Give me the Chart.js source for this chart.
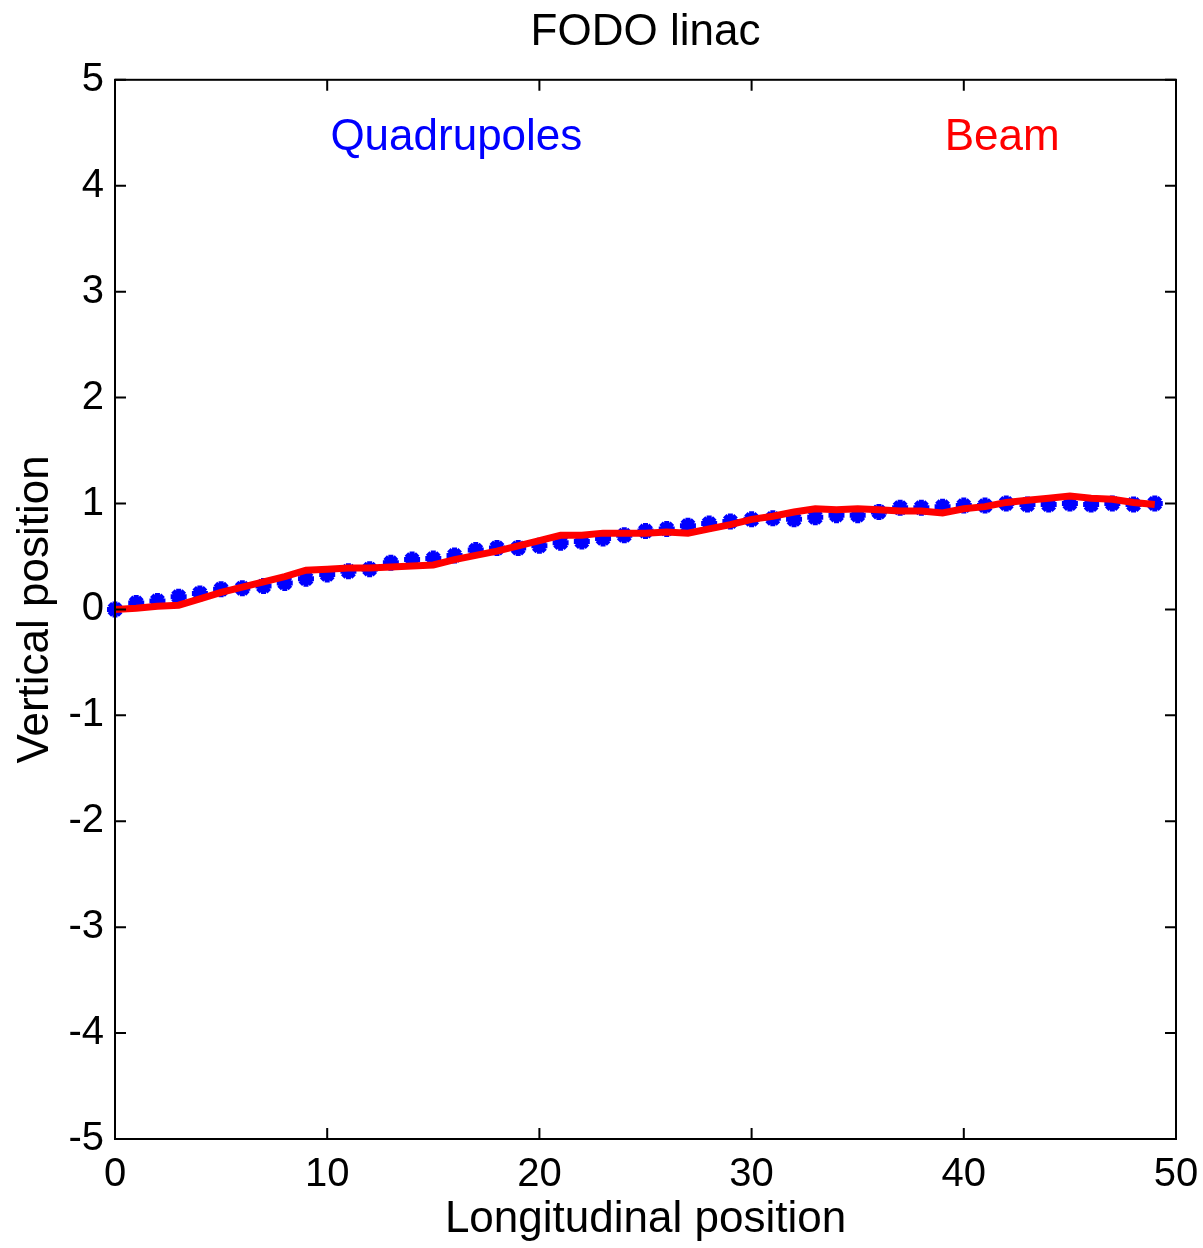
<!DOCTYPE html>
<html lang="en">
<head>
    <meta charset="UTF-8">
    <title>FODO linac</title>
    <script src="https://cdn.jsdelivr.net/npm/chart.js"></script>
    <style>
        body { margin: 0; background: #fff; }
    </style>
</head>
<body>

    <canvas id="chartCanvas" width="1203" height="1248"></canvas>

    <script>
        // Longitudinal positions of the quadrupoles
        const positions = [0, 1, 2, 3, 4, 5, 6, 7, 8, 9, 10, 11, 12, 13, 14, 15, 16,
            17, 18, 19, 20, 21, 22, 23, 24, 25, 26, 27, 28, 29, 30, 31, 32,
            33, 34, 35, 36, 37, 38, 39, 40, 41, 42, 43, 44, 45, 46, 47, 48, 49];

        // Vertical position of each quadrupole (blue stars)
        const quadY = [0.00, 0.06, 0.08, 0.12, 0.15, 0.19, 0.20, 0.22, 0.25, 0.29, 0.33, 0.36, 0.38, 0.44, 0.47, 0.48, 0.51,
            0.56, 0.58, 0.58, 0.60, 0.63, 0.64, 0.67, 0.70, 0.74, 0.76, 0.79, 0.81, 0.83, 0.85, 0.86, 0.85,
            0.87, 0.89, 0.89, 0.92, 0.96, 0.96, 0.97, 0.98, 0.98, 1.00, 0.99, 0.99, 1.00, 0.99, 1.00, 0.99, 1.00];

        // Beam vertical position (red line)
        const beamY = [0.00, 0.01, 0.03, 0.04, 0.10, 0.16, 0.21, 0.26, 0.31, 0.37, 0.38, 0.39, 0.39, 0.40, 0.41, 0.42, 0.47,
            0.51, 0.55, 0.60, 0.65, 0.70, 0.70, 0.72, 0.72, 0.72, 0.73, 0.72, 0.76, 0.80, 0.85, 0.88, 0.92,
            0.95, 0.94, 0.95, 0.94, 0.93, 0.93, 0.91, 0.95, 0.97, 1.01, 1.03, 1.05, 1.07, 1.05, 1.04, 1.01, 0.99];

        // Text labels inside the axes (data coordinates, left aligned)
        const noteTexts = ['Quadrupoles', 'Beam'];
        const noteX = [10.15, 39.1];
        const noteY = [4.45, 4.45];
        const noteColors = ['#0000ff', '#ff0000'];

        const FONT = '"Liberation Sans", Arial, Helvetica, sans-serif';

        // Box around the axes plus inward ticks on all four sides, and the text notes
        const framePlugin = {
            id: 'frame',
            afterDraw(chart) {
                const ctx = chart.ctx;
                const a = chart.chartArea;
                const xs = chart.scales.x;
                const ys = chart.scales.y;
                const tl = 11;
                ctx.save();
                ctx.strokeStyle = '#000';
                ctx.lineWidth = 2;
                ctx.strokeRect(a.left, a.top, a.right - a.left, a.bottom - a.top);
                ctx.beginPath();
                xs.ticks.forEach(t => {
                    const px = xs.getPixelForValue(t.value);
                    ctx.moveTo(px, a.bottom); ctx.lineTo(px, a.bottom - tl);
                    ctx.moveTo(px, a.top); ctx.lineTo(px, a.top + tl);
                });
                ys.ticks.forEach(t => {
                    const py = ys.getPixelForValue(t.value);
                    ctx.moveTo(a.left, py); ctx.lineTo(a.left + tl, py);
                    ctx.moveTo(a.right, py); ctx.lineTo(a.right - tl, py);
                });
                ctx.stroke();

                ctx.font = '44px ' + FONT;
                ctx.textAlign = 'left';
                ctx.textBaseline = 'middle';
                noteTexts.forEach((txt, i) => {
                    ctx.fillStyle = noteColors[i];
                    ctx.fillText(txt, xs.getPixelForValue(noteX[i]), ys.getPixelForValue(noteY[i]));
                });
                ctx.restore();
            }
        };

        const ctx = document.getElementById('chartCanvas').getContext('2d');

        const chart = new Chart(ctx, {
            type: 'line',
            data: {
                datasets: [{
                    label: 'Beam',
                    data: positions.map((x, i) => ({ x: x, y: beamY[i] })),
                    borderColor: '#ff0000',
                    borderWidth: 7,
                    pointRadius: 0,
                    fill: false,
                    tension: 0
                }, {
                    label: 'Quadrupoles',
                    data: positions.map((x, i) => ({ x: x, y: quadY[i] })),
                    showLine: false,
                    pointStyle: 'star',
                    pointRadius: 8,
                    pointBorderWidth: 5,
                    pointBorderColor: '#0000ff',
                    pointBackgroundColor: '#0000ff',
                    clip: false
                }]
            },
            options: {
                responsive: false,
                animation: false,
                devicePixelRatio: 1,
                layout: { padding: { left: 0, right: 27, top: 0, bottom: 0 } },
                plugins: {
                    legend: { display: false },
                    tooltip: { enabled: false },
                    title: {
                        display: true,
                        text: 'FODO linac',
                        fullSize: false,
                        color: '#000',
                        font: { family: FONT, size: 44, weight: 'normal' },
                        padding: { top: 6, bottom: 21 }
                    }
                },
                scales: {
                    x: {
                        type: 'linear',
                        min: 0,
                        max: 50,
                        afterFit: s => { s.height = 109; s.paddingLeft = 0; s.paddingRight = 0; },
                        border: { display: false },
                        grid: { drawOnChartArea: false, drawTicks: false },
                        ticks: {
                            stepSize: 10,
                            color: '#000',
                            padding: 12,
                            maxRotation: 0,
                            font: { family: FONT, size: 40 }
                        },
                        title: {
                            display: true,
                            text: 'Longitudinal position',
                            color: '#000',
                            font: { family: FONT, size: 44 },
                            padding: { top: 0, bottom: 2 }
                        }
                    },
                    y: {
                        type: 'linear',
                        min: -5,
                        max: 5,
                        afterFit: s => { s.width = 115; s.paddingTop = 0; s.paddingBottom = 0; },
                        border: { display: false },
                        grid: { drawOnChartArea: false, drawTicks: false },
                        ticks: {
                            stepSize: 1,
                            color: '#000',
                            padding: 11,
                            font: { family: FONT, size: 40 }
                        },
                        title: {
                            display: true,
                            text: 'Vertical position',
                            color: '#000',
                            font: { family: FONT, size: 44 },
                            padding: { top: 9, bottom: 0 }
                        }
                    }
                }
            },
            plugins: [framePlugin]
        });
    </script>

</body>
</html>
